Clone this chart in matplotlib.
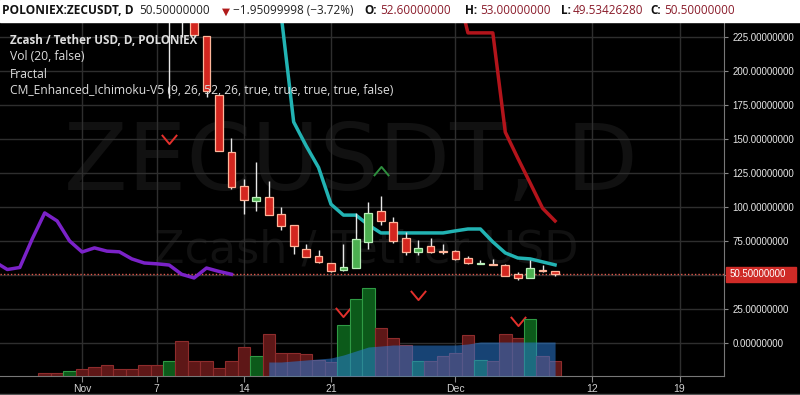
import matplotlib.pyplot as plt
from matplotlib.patches import Rectangle
from matplotlib.path import Path
from matplotlib.ticker import FuncFormatter

# --- Daten (Tag 0 = 1. Nov) ---
days = list(range(7, 39))
opens = [250, 290, 260, 225.7, 182, 140.4, 115.4, 104.4, 107.4, 94.9, 86.8, 69, 64, 58.8,
         53.5, 55.1, 74.3, 97, 89, 77.2, 66.9, 71.3, 67.6, 67.6, 62.5, 57.9, 57.6, 57.4,
         50.7, 47.8, 53, 52.6]
highs = [320, 300, 265, 226, 182, 150.7, 120.6, 133, 119, 100, 87, 72.8, 68.4, 59,
         72.8, 95.6, 103.7, 108, 92.6, 81.6, 75.7, 77.2, 72.8, 68, 64, 61, 61.8, 58,
         52.2, 61, 57.4, 53]
lows = [180, 225, 226, 181, 141, 113.2, 94.9, 97, 94, 83, 65.4, 63, 59, 52,
        53, 55, 69, 86.8, 73.5, 64.7, 64.7, 66, 65.4, 61, 58, 57.9, 57.3, 49,
        46.3, 47.8, 52, 49.5342628]
closes = [290, 240, 226.5, 185, 141, 114.7, 105.1, 107.4, 94.1, 86, 71.3, 63, 59.6, 52.9,
          55.5, 76.5, 95.6, 89.7, 75, 66.9, 69.9, 66.9, 67.0, 61.8, 58.8, 58.2, 57.3, 49.3,
          47.8, 55.1, 52.6, 50.5]

vol_days = list(range(-3, 39))
volume = [3, 3, 5, 7, 9, 11, 7, 7, 11, 11, 15, 35, 15, 15, 8, 15, 29, 20, 42, 23, 23, 22,
          16, 14, 51, 77, 88, 48, 38, 31, 15, 15, 20, 23, 41, 16, 15, 42, 38, 57, 20, 15]
vol_up = [0, 0, 1, 0, 0, 0, 0, 0, 0, 0, 1, 0, 0, 0, 0, 0, 0, 1, 0, 0, 0, 0,
          0, 0, 1, 1, 1, 0, 0, 0, 1, 0, 0, 0, 0, 1, 0, 0, 0, 1, 0, 0]
vol_ma_days = list(range(15, 39))
vol_ma = [14, 14, 15, 16, 17, 18, 21, 25, 29, 30, 31, 31, 31, 31, 31, 31, 32, 34, 34, 34, 34, 34, 34, 34]

tenkan_days = list(range(16, 39))
tenkan = [241, 162.5, 145, 129, 102, 94, 94, 86.8, 80.9, 80.9, 80.9, 80.9, 80.9, 80.9,
          82.4, 83.8, 83.8, 74.3, 66.2, 62.5, 61.8, 59.6, 57.4]
kijun_days = list(range(30, 39))
kijun = [265, 228, 228, 228, 155, 136, 117.6, 99, 89.7]
lag_days = list(range(-7, 13))
lagging = [59.6, 54.0, 55.5, 76.5, 95.6, 89.7, 75.0, 66.9, 69.9, 67.5, 67.0, 61.8, 58.8,
           58.2, 57.3, 50.5, 47.8, 55.1, 52.6, 50.5]

fractal_down_days = [7, 21, 27, 35]
fractal_down_vals = [150, 22.8, 35.3, 16.2]
fractal_up_days = [24]
fractal_up_vals = [126.5]

last_price = 50.5
tick_days = [0, 6, 13, 20, 30, 41, 48]
tick_labels = ["Nov", "7", "14", "21", "Dec", "12", "19"]

header = [
    (2, "POLONIEX:ZECUSDT, D", "#111111", "bold"),
    (139, "50.50000000", "#222222", "normal"),
    (233, "\u22121.95099998 (\u22123.72%)", "#222222", "normal"),
    (364, "O:", "#111111", "bold"),
    (380, "52.60000000", "#8a1c2b", "normal"),
    (465, "H:", "#111111", "bold"),
    (480, "53.00000000", "#8a1c2b", "normal"),
    (561, "L:", "#111111", "bold"),
    (573, "49.53426280", "#8a1c2b", "normal"),
    (650, "C:", "#111111", "bold"),
    (664, "50.50000000", "#8a1c2b", "normal"),
]
legend_lines = ["Zcash / Tether USD, D, POLONIEX", "Vol (20, false)", "Fractal",
                "CM_Enhanced_Ichimoku-V5 (9, 26, 52, 26, true, true, true, true, false)"]

W, H = 800, 395
fig = plt.figure(figsize=(8, 3.95), dpi=100, facecolor="black")
rect = [0, 19 / H, 724 / W, 354 / H]
ax = fig.add_axes(rect, facecolor="black")
axv = fig.add_axes(rect, facecolor="none", sharex=ax)

fonts = ["Open Sans", "DejaVu Sans"]

# Kopfzeile
fig.patches.append(Rectangle((0, 1 - 22 / H), 1, 22 / H, transform=fig.transFigure,
                             color="white", zorder=0))
for x, t, c, w in header:
    size = 8.6 if w == "bold" and x < 10 else 8.5
    fig.text(x / W, 1 - 11 / H, t, color=c, fontweight=w, fontsize=size,
             family=fonts, va="center", ha="left")
fig.text(226 / W, 1 - 11.5 / H, "\u25bc", color="#b01a1a", fontsize=7.5,
         family=["DejaVu Sans"], va="center", ha="center")

# Achsen
ax.set_xlim(-6.59, 51.57)
ax.set_ylim(-24.3, 236.0)
axv.set_ylim(0, 354)
axv.axis("off")

ax.set_yticks(range(0, 226, 25))
ax.yaxis.set_major_formatter(FuncFormatter(lambda v, p: "" if v == 50 else "%.8f" % v))
ax.yaxis.tick_right()
ax.set_xticks(tick_days)
ax.set_xticklabels(tick_labels)
ax.tick_params(axis="y", colors="#888888", labelcolor="#e6e6e6", length=3, pad=3,
               labelsize=7)
ax.tick_params(axis="x", colors="#888888", labelcolor="#d0d0d0", length=4, pad=2,
               labelsize=7.5)
for lab in ax.get_xticklabels() + ax.get_yticklabels():
    lab.set_family("Liberation Sans")
ax.grid(True, color="#2e2e2e", linewidth=1, zorder=0)
ax.set_axisbelow(True)
for s in ["top", "left"]:
    ax.spines[s].set_visible(False)
for s in ["right", "bottom"]:
    ax.spines[s].set_color("#777777")

# Wasserzeichen
ax.text(351 / 724, 1 - (164 - 22) / 354, "ZECUSDT, D", transform=ax.transAxes,
        fontsize=67, color="#111111", ha="center", va="center", zorder=0.1,
        family=["DejaVu Sans"])
ax.text(366 / 724, 1 - (250 - 22) / 354, "Zcash / Tether USD", transform=ax.transAxes,
        fontsize=32, color="#111111", ha="center", va="center", zorder=0.1,
        family=["DejaVu Sans"])

# Legende
for i, t in enumerate(legend_lines):
    fig.text(10 / W, 1 - (40 + 17 * i) / H, t, color="#dddddd",
             fontsize=8.4 if i == 0 else 8.7,
             fontweight="bold" if i == 0 else "normal", family=fonts,
             va="center", ha="left", zorder=1)

# Volumen
vcols = ["#0c5a1a" if u else "#5e1717" for u in vol_up]
vedges = ["#2f9a44" if u else "#8e2c2c" for u in vol_up]
axv.bar(vol_days, volume, width=1.0, color=vcols, edgecolor=vedges, linewidth=0.8, zorder=1)
axv.fill_between(vol_ma_days, 0, vol_ma, color="#2a7bd4", alpha=0.55, linewidth=0, zorder=2)

# Ichimoku Linien
ax.plot(lag_days, lagging, color="#7b22c8", linewidth=2.5, zorder=3, solid_joinstyle="round")
ax.plot(tenkan_days, tenkan, color="#22b3b3", linewidth=2.5, zorder=3, solid_joinstyle="round")
ax.plot(kijun_days, kijun, color="#b3141b", linewidth=2.5, zorder=3, solid_joinstyle="round")

# Kerzen
for d, o, h, l, c in zip(days, opens, highs, lows, closes):
    up = c > o
    ax.vlines(d, l, h, color="#e8e8e8", linewidth=1, zorder=4)
    lo, hi = min(o, c), max(o, c)
    hgt = max(hi - lo, 0.8)
    ax.bar(d, hgt, bottom=lo, width=0.62,
           color="#4caf50" if up else "#d3261f",
           edgecolor="#b9f0b9" if up else "#ffb59a", linewidth=0.9, zorder=5)

# Fraktale
chev_down = Path([(-1, 0.6), (0, -0.6), (1, 0.6)], [Path.MOVETO, Path.LINETO, Path.LINETO])
chev_up = Path([(-1, -0.6), (0, 0.6), (1, -0.6)], [Path.MOVETO, Path.LINETO, Path.LINETO])
ax.plot(fractal_down_days, fractal_down_vals, linestyle="none", marker=chev_down,
        markersize=11, markerfacecolor="none", markeredgecolor="#e3302c",
        markeredgewidth=1.4, zorder=6)
ax.plot(fractal_up_days, fractal_up_vals, linestyle="none", marker=chev_up,
        markersize=11, markerfacecolor="none", markeredgecolor="#2e8f3e",
        markeredgewidth=1.4, zorder=6)

# Letzter Kurs
ax.axhline(last_price, color="#e0584c", linewidth=1, linestyle=(0, (1, 1.5)), zorder=2)
y_pix = 19 + (last_price + 24.3) / 260.3 * 354
fig.patches.append(Rectangle((726 / W, (y_pix - 7.5) / H), 70 / W, 15 / H,
                             transform=fig.transFigure, color="#cf2b27", zorder=5))
fig.text(730 / W, y_pix / H, "%.8f" % last_price, color="white", fontsize=7,
         family=["Liberation Sans"], va="center", ha="left", zorder=6)

fig.add_artist(plt.Line2D([0, 1], [1 / H, 1 / H], transform=fig.transFigure,
                          color="#555555", linewidth=1))

fig.savefig("out.png", dpi=100, facecolor="black")
